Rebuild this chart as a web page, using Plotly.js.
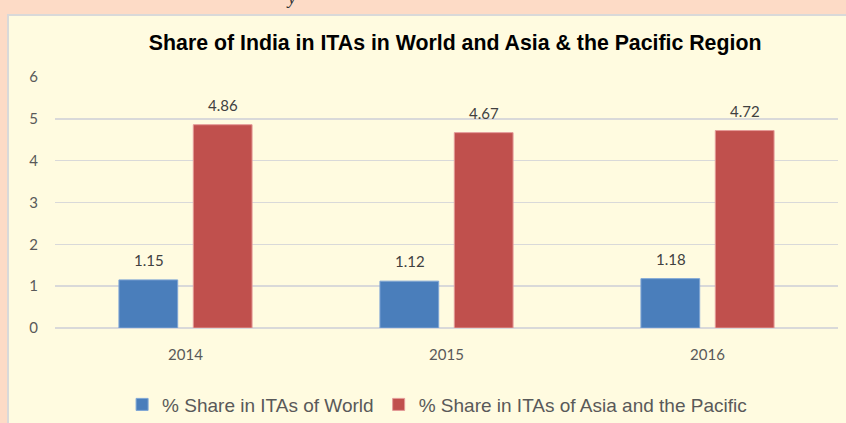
<!DOCTYPE html>
<html>
<head>
<meta charset="utf-8">
<script src="https://cdn.plot.ly/plotly-3.0.1.min.js"></script>
<style>
  html, body { margin:0; padding:0; width:846px; height:423px; overflow:hidden; background:#FDDBC6; }
  #panel { position:absolute; left:7px; top:14px; width:850px; height:420px; background:#FFFBE0; border-left:2px solid #D9D9D9; border-top:2px solid #D9D9D9; }
  #frag { position:absolute; left:288px; top:-12px; font-family:"Liberation Serif", serif; font-style:italic; font-size:18px; color:#333; }
  #chart { position:absolute; left:0; top:0; width:846px; height:423px; }
</style>
</head>
<body>
<div id="panel"></div>
<div id="frag">y</div>
<div id="chart"></div>
<script>
const years = ["2014", "2015", "2016"];
const worldShare = [1.15, 1.12, 1.18];
const asiaShare = [4.86, 4.67, 4.72];
const seriesNames = ["% Share in ITAs of World", "% Share in ITAs of Asia and the Pacific"];
const yTicks = [0, 1, 2, 3, 4, 5, 6];

const traces = [
  { type:"bar", name:seriesNames[0], x:years, y:worldShare,
    marker:{color:"#4A7EBB", line:{color:"#7FA6D6", width:1}}, hoverinfo:"none" },
  { type:"bar", name:seriesNames[1], x:years, y:asiaShare,
    marker:{color:"#C0504D", line:{color:"#E49A98", width:1}}, hoverinfo:"none" }
];

const annotations = [];
[worldShare, asiaShare].forEach((arr, si) => {
  arr.forEach((v, i) => {
    annotations.push({ x:i, y:v, xref:"x", yref:"y", text:v.toFixed(2), showarrow:false,
      xshift: si === 0 ? -37 : 37, yshift: 9, yanchor:"bottom",
      font:{family:"Lato, 'Open Sans', sans-serif", size:15, color:"#404040"} });
  });
});

const layout = {
  width:846, height:423,
  paper_bgcolor:"rgba(0,0,0,0)", plot_bgcolor:"rgba(0,0,0,0)",
  margin:{l:55, r:8, t:77, b:95, autoexpand:false},
  title:{text:"Share of India in ITAs in World and Asia & the Pacific Region",
    font:{family:"Liberation Sans, Arial, sans-serif", size:21.3, color:"#000", weight:"bold"},
    x:0.538, xanchor:"center", y:0.9, yanchor:"middle"},
  barmode:"group", bargap:0.43, bargroupgap:0.21,
  xaxis:{ type:"category", range:[-0.5, 2.5], showgrid:false, showline:false, ticks:"",
    tickfont:{family:"Lato, 'Open Sans', sans-serif", size:15, color:"#595959"}, ticklabelstandoff:16 },
  yaxis:{ range:[0,6], tickvals:yTicks, showgrid:true, gridcolor:"#D9D9D9", gridwidth:1.5,
    zeroline:true, zerolinecolor:"#D9D9D9", zerolinewidth:2, showline:false, ticks:"",
    tickfont:{family:"Lato, 'Open Sans', sans-serif", size:15, color:"#595959"}, ticklabelstandoff:16 },
  showlegend:true,
  legend:{ orientation:"h", x:0.488, xanchor:"center", y:-0.305, yanchor:"middle",
    font:{family:"Liberation Sans, Arial, sans-serif", size:19, color:"#595959"},
    bgcolor:"rgba(0,0,0,0)", itemwidth:30 },
  annotations:annotations
};

Plotly.newPlot("chart", traces, layout, {staticPlot:true, displayModeBar:false});
</script>
</body>
</html>
